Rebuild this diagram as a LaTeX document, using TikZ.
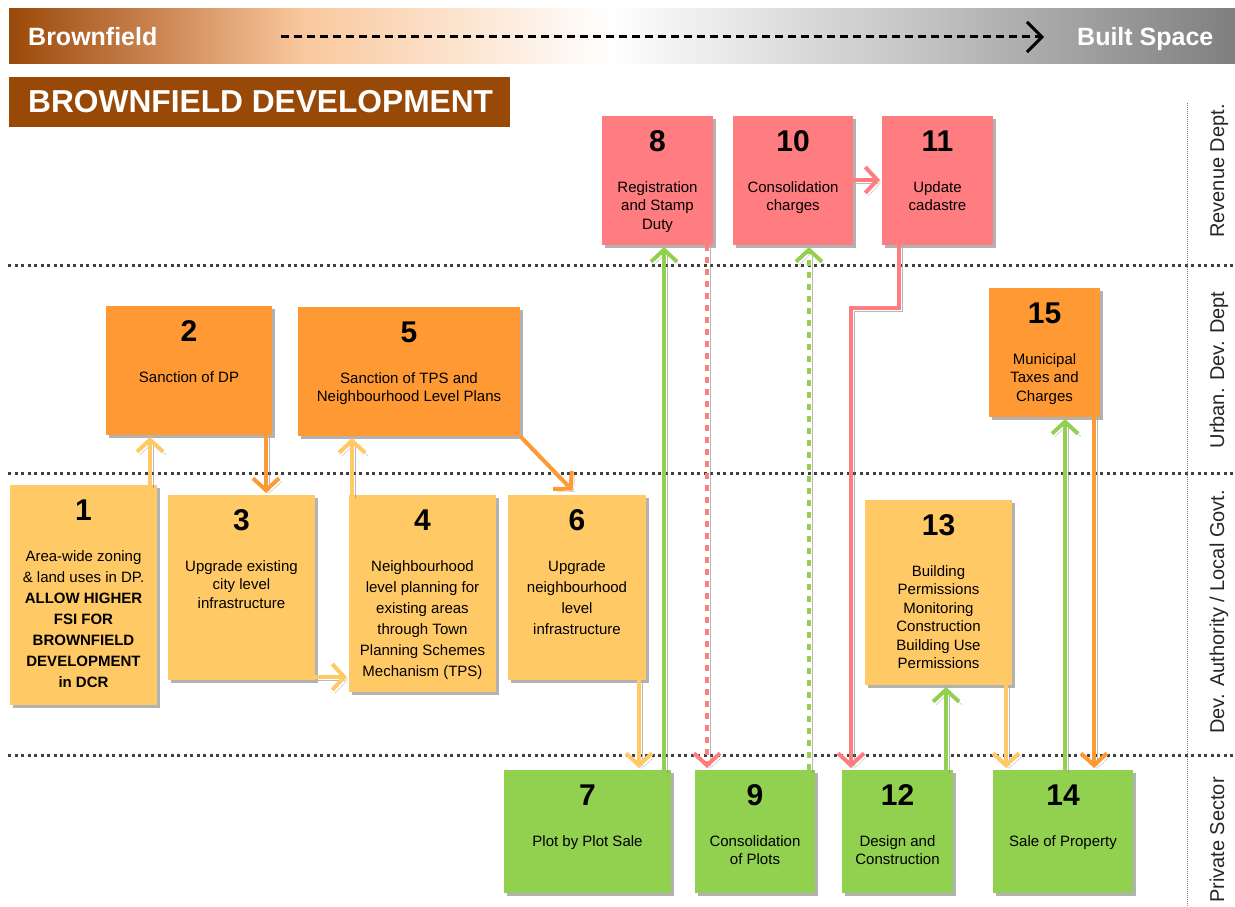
\documentclass[tikz,border=0pt]{standalone}
\usepackage{fontspec}
\setmainfont{Liberation Sans}
\usetikzlibrary{arrows.meta,shadows,calc}
\definecolor{pinkc}{HTML}{FF7C80}
\definecolor{orangec}{HTML}{FF9933}
\definecolor{yellowc}{HTML}{FFC966}
\definecolor{greenc}{HTML}{92D050}
\definecolor{brownc}{HTML}{984807}
\definecolor{bA}{HTML}{9A4A0A}
\definecolor{bB}{HTML}{C98250}
\definecolor{bC}{HTML}{F9C79C}
\definecolor{bD}{HTML}{C4C4C4}
\definecolor{bE}{HTML}{7F7F7F}
\definecolor{lanec}{HTML}{262626}
\definecolor{sepc}{HTML}{404040}
\pgfdeclarehorizontalshading{bannershade}{100bp}{color(0bp)=(bA); color(25bp)=(bA); color(30.8bp)=(bB); color(36.9bp)=(bC); color(49.5bp)=(white); color(62bp)=(bD); color(75bp)=(bE); color(100bp)=(bE)}
\tikzset{
  box/.style={draw=none, inner sep=0pt, outer sep=0pt,
    drop shadow={shadow xshift=3pt, shadow yshift=-3pt, opacity=.3, fill=black}},
  numtxt/.style={inner sep=0pt, font=\fontsize{30}{32}\selectfont\bfseries},
  bodytxt/.style={inner sep=0pt, anchor=north, align=center},
  arr/.style={line width=4pt, shorten >=2pt, -{Straight Barb[length=12pt,width=26pt]},
    preaction={draw=black!50, opacity=.55, transform canvas={xshift=3pt,yshift=-3pt}}},
  dsh/.style={dash pattern=on 6pt off 6pt},
  sepline/.style={draw=sepc, line width=3pt, dash pattern=on 3pt off 3.5pt},
  lanetxt/.style={rotate=90, anchor=base, text=lanec, font=\fontsize{20}{24}\selectfont, inner sep=0pt},
}
\newcommand\mkbox[9]{%
  \node[box, fill=#6, minimum width=#4pt, minimum height=#5pt, anchor=north west] (#1) at (#2,#3) {};
  \node[numtxt] (#1n) at ([yshift=-25pt]#1.north) {#7};
  \node[bodytxt, font={\fontsize{15}{#9}\selectfont}] (#1t) at ([yshift=-65pt]#1.north) {#8};
}
\begin{document}
\begin{tikzpicture}[x=1pt, y=-1pt]
\useasboundingbox (0,0) rectangle (1235,907);
% banner
\shade[shading=bannershade] (9,9) rectangle (1235,64);
\node[anchor=base west, text=white, font=\fontsize{25}{28}\selectfont\bfseries, inner sep=0pt] (bf) at (28,46) {Brownfield};
\node[anchor=base west, text=white, font=\fontsize{25}{28}\selectfont\bfseries, inner sep=0pt] (bs) at (1077,46) {Built Space};
\coordinate (ds) at (281,37);
\coordinate (de) at (1044,37);
\draw[line width=3pt, dash pattern=on 8pt off 5pt, -{Straight Barb[length=15pt,width=30pt]}] (ds) -- (de);
% title
\node[fill=brownc, anchor=north west, minimum width=501pt, minimum height=50pt, inner sep=0pt] (title) at (9,77) {};
\node[anchor=west, text=white, font=\fontsize{31.7}{34}\selectfont\bfseries, inner sep=0pt] (titlet) at (28,102) {BROWNFIELD DEVELOPMENT};
% lanes
\draw[sepline] (8,265) -- (1235,265);
\draw[sepline] (8,473) -- (1235,473);
\draw[sepline] (8,755) -- (1235,755);
\draw[draw=gray, line width=0.8pt, dash pattern=on 1pt off 1pt] (1187,103) -- (1187,907);
\node[lanetxt] (l1) at (1224,171) {Revenue Dept.};
\node[lanetxt] (l2) at (1224,370) {Urban. Dev. Dept};
\node[lanetxt] (l3) at (1224,612) {Dev. Authority / Local Govt.};
\node[lanetxt] (l4) at (1224,840) {Private Sector};
% boxes
\mkbox{b1}{10}{485}{147}{220}{yellowc}{1}{Area-wide zoning\\\& land uses in DP.\\\textbf{ALLOW HIGHER}\\\textbf{FSI FOR}\\\textbf{BROWNFIELD}\\\textbf{DEVELOPMENT}\\\textbf{in DCR}}{21}
\mkbox{b2}{106}{306}{166}{129}{orangec}{2}{Sanction of DP}{18.5}
\mkbox{b3}{168}{495}{147}{185}{yellowc}{3}{Upgrade existing\\city level\\infrastructure}{18.5}
\mkbox{b4}{349}{495}{147}{197}{yellowc}{4}{Neighbourhood\\level planning for\\existing areas\\through Town\\Planning Schemes\\Mechanism (TPS)}{21}
\mkbox{b5}{298}{307}{222}{129}{orangec}{5}{Sanction of TPS and\\Neighbourhood Level Plans}{18.5}
\mkbox{b6}{508}{495}{138}{185}{yellowc}{6}{Upgrade\\neighbourhood\\level\\infrastructure}{21}
\mkbox{b7}{504}{770}{167}{123}{greenc}{7}{Plot by Plot Sale}{18.5}
\mkbox{b8}{602}{116}{111}{129}{pinkc}{8}{Registration\\and Stamp\\Duty}{18.5}
\mkbox{b9}{695}{770}{120}{123}{greenc}{9}{Consolidation\\of Plots}{18.5}
\mkbox{b10}{733}{116}{120}{129}{pinkc}{10}{Consolidation\\charges}{18.5}
\mkbox{b11}{882}{116}{111}{129}{pinkc}{11}{Update\\cadastre}{18.5}
\mkbox{b12}{842}{770}{111}{123}{greenc}{12}{Design and\\Construction}{18.5}
\mkbox{b13}{865}{500}{147}{185}{yellowc}{13}{Building\\Permissions\\Monitoring\\Construction\\Building Use\\Permissions}{18.5}
\mkbox{b14}{993}{770}{140}{123}{greenc}{14}{Sale of Property}{18.5}
\mkbox{b15}{989}{288}{111}{129}{orangec}{15}{Municipal\\Taxes and\\Charges}{18.5}
% connectors
\draw[arr, yellowc] (b1.north -| 150,0) -- (b2.south -| 150,0);
\draw[arr, orangec] (b2.south -| 266,0) -- (b3.north -| 266,0);
\draw[arr, yellowc] (b3.east |- 0,677) -- (b4.west |- 0,677);
\draw[arr, yellowc] (b4.north -| 352,0) -- (b5.south -| 352,0);
\draw[arr, orangec] (b5.south east) -- ([xshift=-3pt,yshift=3pt]b6.north);
\draw[arr, yellowc] (b6.south -| 639,0) -- (b7.north -| 639,0);
\draw[arr, greenc] (b7.north -| 664,0) -- (b8.south -| 664,0);
\draw[arr, pinkc, dsh] (b8.south -| 707,0) -- (b9.north -| 707,0);
\draw[arr, greenc, dsh] (b9.north -| 809,0) -- (b10.south -| 809,0);
\draw[arr, pinkc] (b10.east |- 0,180) -- (b11.west |- 0,180);
\draw[arr, pinkc] (b11.south -| 899,0) -- (899,308) -- (851,308) -- (b12.north -| 851,0);
\draw[arr, greenc] (b12.north -| 946,0) -- (b13.south -| 946,0);
\draw[arr, yellowc] (b13.south -| 1006,0) -- (b14.north -| 1006,0);
\draw[arr, greenc] (b14.north -| 1065,0) -- (b15.south -| 1065,0);
\draw[arr, orangec] (b15.south -| 1094,0) -- (b14.north -| 1094,0);
\end{tikzpicture}
\end{document}
